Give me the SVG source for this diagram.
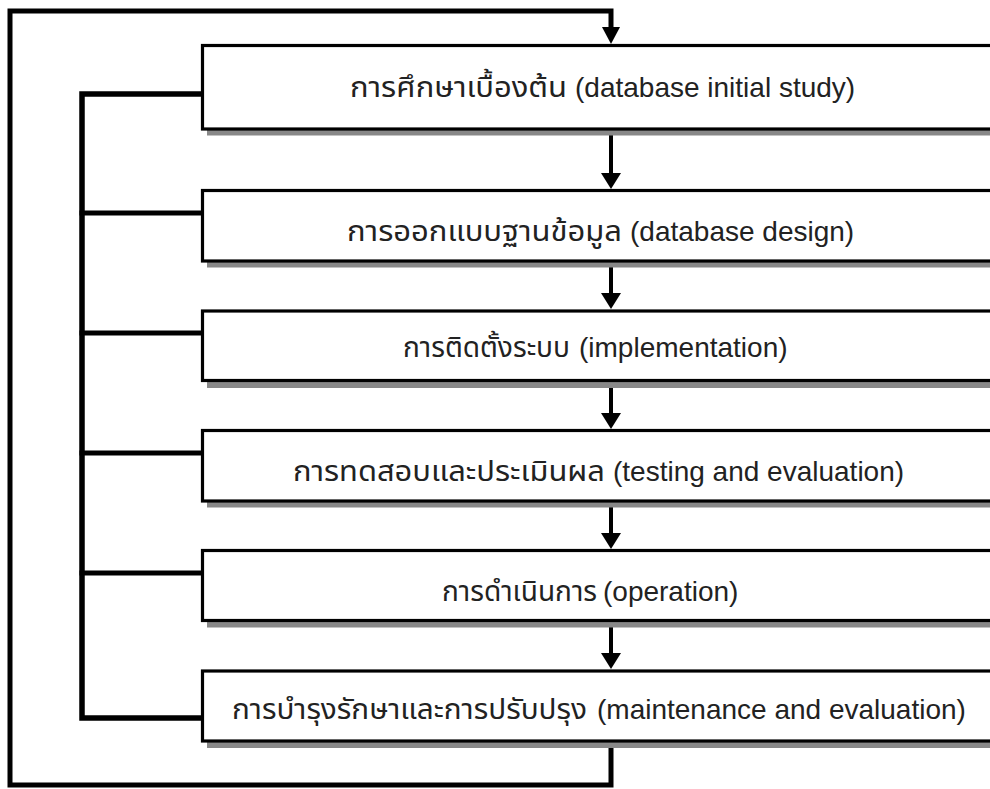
<svg xmlns="http://www.w3.org/2000/svg" width="990" height="789" viewBox="0 0 990 789">
<style>
.box{fill:#fff;stroke:#000;stroke-width:3.2}
.shadow{fill:#888}
.th{font-family:"Noto Sans Thai","Liberation Sans","Noto Sans",sans-serif;font-size:28px;fill:#222}
.en{font-family:"Liberation Sans","Noto Sans",sans-serif;font-size:28px;fill:#222}
.ln{fill:none;stroke:#000;stroke-linejoin:miter;stroke-linecap:square}
</style>
<rect width="990" height="789" fill="#fff"/>
<g id="connectors">
<path class="ln" d="M611,742 V785 H10 V11 H611 V28" stroke-width="5"/>
<path d="M602,27 L620,27 L611,44 Z" fill="#000"/>
<path class="ln" d="M202,94 H82 V718 H202" stroke-width="5.5"/>
<path class="ln" d="M82,213 H202 M82,333 H202 M82,453 H202 M82,573 H202" stroke-width="5"/>
<path class="ln" d="M611,135 V175 M611,267 V295 M611,387 V415 M611,507 V535 M611,627 V655" stroke-width="4"/>
<path d="M601,173 L621,173 L611,189 Z M601,293 L621,293 L611,309 Z M601,413 L621,413 L611,429 Z M601,533 L621,533 L611,549 Z M601,653 L621,653 L611,669 Z" fill="#000"/>
</g>
<g id="n1">
<rect class="shadow" x="207" y="51" width="800" height="84.5"/>
<rect class="box" x="202.5" y="45.5" width="800" height="83.5"/>
<text class="th" x="350" y="97" textLength="217" lengthAdjust="spacingAndGlyphs">การศึกษาเบื้องต้น</text>
<text class="en" x="575" y="97">(database initial study)</text>
</g>
<g id="n2">
<rect class="shadow" x="207" y="196" width="800" height="71.5"/>
<rect class="box" x="202.5" y="190.5" width="800" height="70.5"/>
<text class="th" x="347" y="241" textLength="275" lengthAdjust="spacingAndGlyphs">การออกแบบฐานข้อมูล</text>
<text class="en" x="630" y="241">(database design)</text>
</g>
<g id="n3">
<rect class="shadow" x="207" y="316" width="800" height="72"/>
<rect class="box" x="202.5" y="311" width="800" height="69.5"/>
<text class="th" x="403" y="357" textLength="167" lengthAdjust="spacingAndGlyphs">การติดตั้งระบบ</text>
<text class="en" x="579" y="357">(implementation)</text>
</g>
<g id="n4">
<rect class="shadow" x="207" y="436" width="800" height="71.5"/>
<rect class="box" x="202.5" y="430.5" width="800" height="70.5"/>
<text class="th" x="293" y="481" textLength="312" lengthAdjust="spacingAndGlyphs">การทดสอบและประเมินผล</text>
<text class="en" x="613" y="481">(testing and evaluation)</text>
</g>
<g id="n5">
<rect class="shadow" x="207" y="556" width="800" height="71.5"/>
<rect class="box" x="202.5" y="550.5" width="800" height="70"/>
<text class="th" x="442" y="601" textLength="155" lengthAdjust="spacingAndGlyphs">การดำเนินการ</text>
<text class="en" x="603" y="601">(operation)</text>
</g>
<g id="n6">
<rect class="shadow" x="207" y="676" width="800" height="72"/>
<rect class="box" x="202.5" y="671" width="800" height="70"/>
<text class="th" x="232" y="719" textLength="355" lengthAdjust="spacingAndGlyphs">การบำรุงรักษาและการปรับปรุง</text>
<text class="en" x="597" y="719">(maintenance and evaluation)</text>
</g>
</svg>
